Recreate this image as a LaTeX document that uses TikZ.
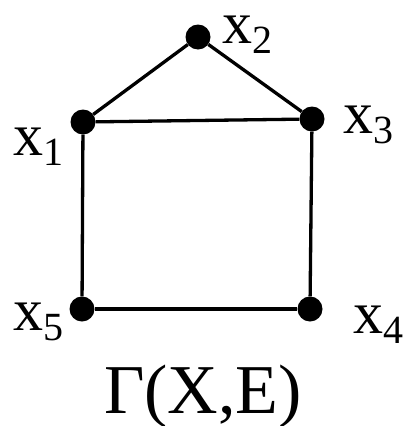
\documentclass[tikz,border=0pt]{standalone}
\usepackage{fontspec}
\setmainfont{Liberation Serif}
\newcommand{\vlab}[1]{\fontsize{60}{72}\selectfont x\raisebox{-10pt}{\fontsize{40}{48}\selectfont #1}}
\begin{document}
\begin{tikzpicture}[x=1pt,y=-1pt,
  vdot/.style={circle,fill=black,inner sep=0pt,minimum size=25pt},
  edge/.style={line width=3.3pt},
  vlabel/.style={anchor=base west,inner sep=0pt}]
\useasboundingbox (0,0) rectangle (414,426);
\node[vdot] (v1) at (83,122) {};
\node[vdot] (v2) at (198,37) {};
\node[vdot] (v3) at (312,119) {};
\node[vdot] (v4) at (310,309) {};
\node[vdot] (v5) at (82,309) {};
\draw[edge] (v1) -- (v2);
\draw[edge] (v2) -- (v3);
\draw[edge] (v1) -- (v3);
\draw[edge] (v1) -- (v5);
\draw[edge] (v3) -- (v4);
\draw[edge] (v5) -- (v4);
\node[vlabel] (l2) at (222,43) {\vlab{2}};
\node[vlabel] (l1) at (13,155) {\vlab{1}};
\node[vlabel] (l3) at (343,133) {\vlab{3}};
\node[vlabel] (l5) at (13,330) {\vlab{5}};
\node[vlabel] (l4) at (353,333) {\vlab{4}};
\node[anchor=base,inner sep=0pt] (title) at (203,413) {\fontsize{70}{84}\selectfont Γ(X,E)};
\end{tikzpicture}
\end{document}
